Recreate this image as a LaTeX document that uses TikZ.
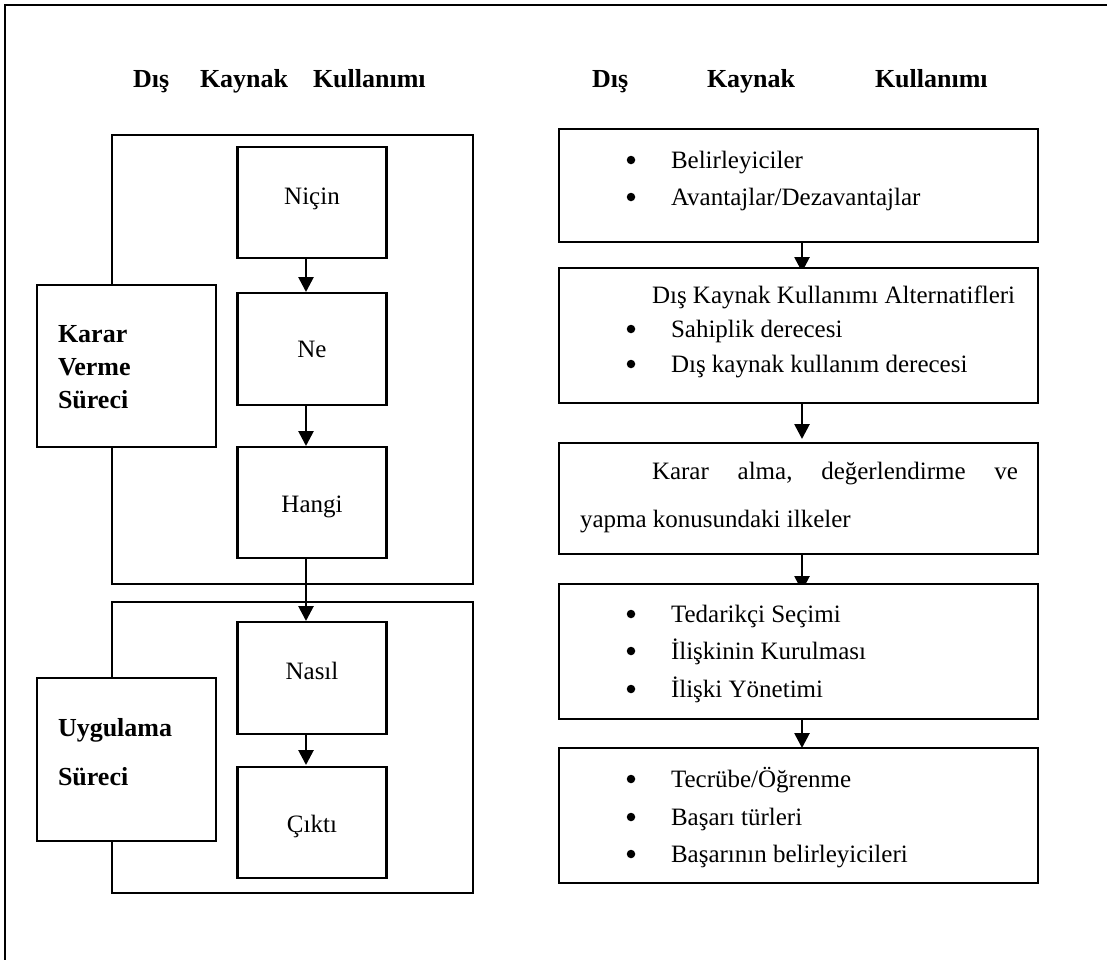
\documentclass[tikz,border=0pt]{standalone}
\usepackage{fontspec}
\setmainfont{Liberation Serif}
\usetikzlibrary{arrows.meta,backgrounds}
\begin{document}
\begin{tikzpicture}[x=1pt,y=-1pt,
  stageframe/.style={draw,line width=2.7pt,inner sep=0pt,outer sep=0pt},
  cell/.style={draw,fill=white,line width=2.8pt,inner sep=0pt,outer sep=0pt},
  leftcell/.style={cell,minimum width=149pt},
  rightcell/.style={cell,minimum width=479pt},
  sidecell/.style={cell,minimum width=179pt},
  txt/.style={inner sep=0pt,outer sep=0pt,anchor=base west,font=\fontsize{25}{30}\selectfont},
  ctxt/.style={txt,anchor=base},
  btxt/.style={txt,font=\fontsize{26}{31}\selectfont\bfseries},
  dot/.style={circle,fill=black,inner sep=0pt,minimum size=8.5pt},
  flow/.style={line width=2.7pt,-{Triangle[width=15pt,length=15pt]}},
]
\useasboundingbox (0,0) rectangle (1107,959);

% outer page frame (only the top and left edges fall on the page)
\draw[line width=2.4pt] (1112,5) -- (5,5) -- (5,964);

% headings
\node[btxt] (tl1) at (133,87) {Dış};
\node[btxt] (tl2) at (200,87) {Kaynak};
\node[btxt] (tl3) at (313,87) {Kullanımı};
\node[btxt] (tr1) at (592,87) {Dış};
\node[btxt] (tr2) at (707,87) {Kaynak};
\node[btxt] (tr3) at (875,87) {Kullanımı};

% stage frames
\node[stageframe,minimum width=361pt,minimum height=449pt] (kvf) at (292.5,359.5) {};
\node[stageframe,minimum width=361pt,minimum height=291pt] (ugf) at (292.5,747.5) {};

% stage labels
\node[sidecell,minimum height=162pt] (karar) at (126.5,366) {};
\node[btxt] (karar1) at (58,342) {Karar};
\node[btxt] (karar2) at (58,375) {Verme};
\node[btxt] (karar3) at (58,408) {Süreci};
\node[sidecell,minimum height=163pt] (uyg) at (126.5,759.5) {};
\node[btxt] (uyg1) at (58,736) {Uygulama};
\node[btxt] (uyg2) at (58,785) {Süreci};

% question steps
\node[leftcell,minimum height=111pt] (nicin) at (312,202.5) {};
\node[ctxt] (nicinT) at (312,204) {Niçin};
\node[leftcell,minimum height=112pt] (ne) at (312,349) {};
\node[ctxt] (neT) at (312,357) {Ne};
\node[leftcell,minimum height=111pt] (hangi) at (312,502.5) {};
\node[ctxt] (hangiT) at (312,512) {Hangi};
\node[leftcell,minimum height=112pt] (nasil) at (312,678) {};
\node[ctxt] (nasilT) at (312,679) {Nasıl};
\node[leftcell,minimum height=111pt] (cikti) at (312,822.5) {};
\node[ctxt] (ciktiT) at (312,832) {Çıktı};

% right column
\node[rightcell,minimum height=113pt] (b1) at (798.5,185.5) {};
\node[dot] (b1d1) at (631,160) {};
\node[txt] (b1t1) at (671,168) {Belirleyiciler};
\node[dot] (b1d2) at (631,197) {};
\node[txt] (b1t2) at (671,205) {Avantajlar/Dezavantajlar};

\node[rightcell,minimum height=135pt] (b2) at (798.5,335.5) {};
\node[txt] (b2h) at (652,303) {Dış Kaynak Kullanımı Alternatifleri};
\node[dot] (b2d1) at (631,329) {};
\node[txt] (b2t1) at (671,337) {Sahiplik derecesi};
\node[dot] (b2d2) at (631,364) {};
\node[txt] (b2t2) at (671,372) {Dış kaynak kullanım derecesi};

\node[rightcell,minimum height=111pt] (b3) at (798.5,498.5) {};
\node[txt] (b3t1) at (652,479) {\makebox[366pt][s]{Karar\hfill alma,\hfill değerlendirme\hfill ve}};
\node[txt] (b3t2) at (580,527) {yapma konusundaki ilkeler};

\node[rightcell,minimum height=135pt] (b4) at (798.5,651.5) {};
\node[dot] (b4d1) at (631,614) {};
\node[txt] (b4t1) at (671,622) {Tedarikçi Seçimi};
\node[dot] (b4d2) at (631,651) {};
\node[txt] (b4t2) at (671,659) {İlişkinin Kurulması};
\node[dot] (b4d3) at (631,689) {};
\node[txt] (b4t3) at (671,697) {İlişki Yönetimi};

\node[rightcell,minimum height=135pt] (b5) at (798.5,815.5) {};
\node[dot] (b5d1) at (631,779) {};
\node[txt] (b5t1) at (671,787) {Tecrübe/Öğrenme};
\node[dot] (b5d2) at (631,817) {};
\node[txt] (b5t2) at (671,825) {Başarı türleri};
\node[dot] (b5d3) at (631,854) {};
\node[txt] (b5t3) at (671,862) {Başarının belirleyicileri};

% connectors, kept behind the boxes
\begin{pgfonlayer}{background}
\draw[flow,shorten >=1pt] ([xshift=-6pt]nicin.south) -- ([xshift=-6pt]ne.north);
\draw[flow,shorten >=1pt] ([xshift=-6pt]ne.south) -- ([xshift=-6pt]hangi.north);
\draw[flow,shorten >=1pt] ([xshift=-6pt]hangi.south) -- ([xshift=-6pt]nasil.north);
\draw[flow,shorten <=-4pt,shorten >=2pt] ([xshift=-6pt]nasil.south) -- ([xshift=-6pt]cikti.north);
\draw[flow,shorten >=-4pt] ([xshift=3.5pt]b1.south) -- ([xshift=3.5pt]b2.north);
\draw[flow,shorten >=4pt] ([xshift=3.5pt]b2.south) -- ([xshift=3.5pt]b3.north);
\draw[flow,shorten >=-7pt] ([xshift=3.5pt]b3.south) -- ([xshift=3.5pt]b4.north);
\draw[flow] ([xshift=3.5pt]b4.south) -- ([xshift=3.5pt]b5.north);
\end{pgfonlayer}
\end{tikzpicture}
\end{document}
